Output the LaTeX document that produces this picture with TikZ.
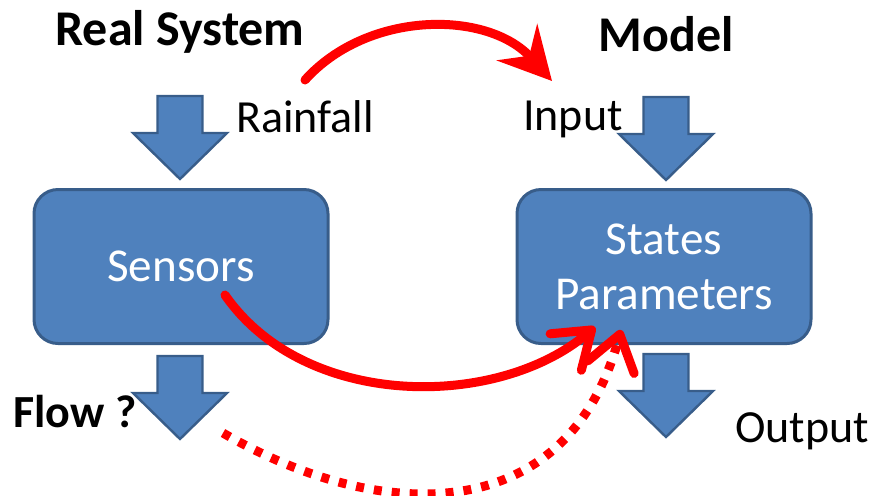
\documentclass[tikz,border=0pt]{standalone}
\usepackage{fontspec}
\setmainfont{Carlito}
\usetikzlibrary{arrows.meta}
\definecolor{boxfill}{RGB}{79,129,189}
\definecolor{boxedge}{RGB}{56,93,138}

\begin{document}
\begin{tikzpicture}[x=0.5pt,y=-0.5pt,
  box/.style={draw=boxedge,fill=boxfill,line width=1.5pt,rounded corners=12pt,minimum width=147pt,minimum height=77pt,text=white,font=\fontsize{23.6}{27.5}\selectfont,align=center},
  blk/.style={draw=boxedge,fill=boxfill,line width=1.2pt,line join=miter},
  lbl/.style={font=\fontsize{23}{27.5}\selectfont},
  ttl/.style={font=\fontsize{25}{30}\selectfont\bfseries},
  flow/.style={draw=red,line width=4.5pt,line cap=round}]
  \useasboundingbox (0,0) rectangle (884,495);
  \node [ttl] (real) at (180,32) {Real System};
  \node [ttl] (model) at (666,34) {Model};
  \node [lbl] (rainfall) at (305,117) {Rainfall};
  \node [lbl] (input) at (573,119) {Input};
  \node [lbl] (output) at (802,431) {Output};
  \node [lbl,font=\fontsize{23}{27.5}\selectfont\bfseries] (flowq) at (75,412) {Flow ?};
  \node [box] (sensors) at (181,266.5) {Sensors};
  \node [box] (model box) at (664,266.5) {States\\Parameters};
  \foreach \x/\y in {180/96,666/97,180/356,666/354}
    \draw [blk] (\x,\y) ++(-22.5,0) -- ++(45,0) -- ++(0,37) -- ++(24.5,0) -- ++(-47,46) -- ++(-47,-46) -- ++(24.5,0) -- cycle;
  \coordinate (r1) at (305,80);
  \coordinate (i1) at (552,81);
  \coordinate (s1) at (225,295);
  \coordinate (p1) at (595,327);
  \coordinate (f1) at (223,433);
  \coordinate (p2) at (621,330);
  \draw [flow,-{Stealth[length=26pt,width=27pt,inset=9pt]}] (r1) .. controls (368,10) and (488,10) .. (i1);
  \draw [flow,-{Straight Barb[length=17pt,width=24pt,round]}] (s1) .. controls (305,410) and (498,410) .. (p1);
  \draw [flow,line cap=butt,dash pattern=on 4pt off 5pt,-{Straight Barb[length=17pt,width=24pt,round]}] (f1) .. controls (384,526) and (568,526) .. (p2);
\end{tikzpicture}
\end{document}
